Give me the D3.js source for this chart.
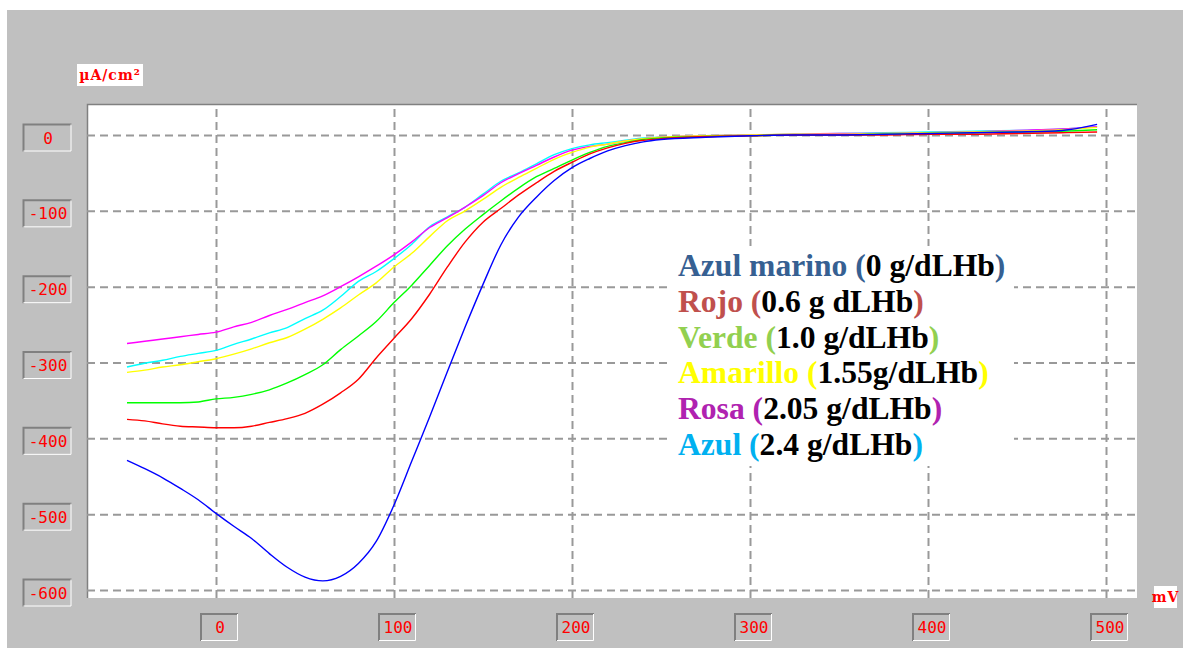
<!DOCTYPE html>
<html>
<head>
<meta charset="utf-8">
<script src="https://cdn.jsdelivr.net/npm/d3@7"></script>
<style>
  html, body { margin: 0; padding: 0; background: #ffffff; }
  svg { display: block; }
</style>
</head>
<body>
<svg id="chart" width="1183" height="648"></svg>
<script>
// Potential (mV) sampling points shared by all curves
const potentials = [-50,-40,-30,-20,-10,0,10,20,30,40,50,60,70,80,90,100,110,120,130,140,150,160,170,180,190,200,210,220,230,240,250,275,300,325,350,375,400,425,450,475,495];

// Current density (µA/cm²) per hemoglobin concentration
const navy = [-429,-440,-452,-466,-481,-499,-516,-532,-552,-570,-583,-588,-582,-565,-536,-488,-430,-372,-312,-253,-197,-145,-108,-82,-60,-43,-31,-21,-14,-9,-6,-3,-1,0,0,1,2,3,4,6,14];
const red = [-375,-377,-381,-384,-385,-386,-386,-384,-379,-374,-367,-355,-340,-322,-294,-268,-242,-210,-174,-141,-115,-97,-79,-63,-48,-36,-25,-17,-11,-7,-5,-2,-1,0,0,0,1,1,2,3,4];
const green = [-353,-353,-353,-353,-352,-348,-346,-342,-336,-327,-316,-303,-283,-265,-246,-221,-198,-172,-146,-124,-105,-87,-70,-55,-44,-33,-23,-15,-10,-6,-4,-2,-1,0,0,1,2,3,4,5,7];
const yellow = [-313,-310,-306,-303,-299,-295,-289,-282,-274,-267,-256,-243,-228,-211,-195,-174,-156,-134,-113,-100,-85,-69,-56,-44,-32,-23,-16,-12,-8,-5,-3,-1,0,1,1,2,3,4,5,7,10];
const magenta = [-275,-272,-269,-266,-263,-260,-253,-247,-238,-230,-221,-212,-200,-187,-173,-158,-141,-122,-109,-95,-80,-63,-51,-40,-29,-20,-15,-12,-8,-5,-3,-1,0,1,2,2,3,4,6,8,11];
const cyan = [-306,-301,-297,-292,-288,-284,-276,-269,-261,-254,-242,-231,-213,-193,-180,-163,-144,-121,-108,-95,-78,-61,-50,-38,-26,-18,-13,-10,-7,-4,-3,-1,0,1,2,3,4,5,6,8,11];

// Tick values
const xTicks = [0,100,200,300,400,500];
const yTicks = [0,-100,-200,-300,-400,-500,-600];

// Legend rows: name and amount text
const legendNames = ["Azul marino","Rojo","Verde","Amarillo","Rosa","Azul"];
const legendAmounts = ["0 g/dLHb","0.6 g dLHb","1.0 g/dLHb","1.55g/dLHb","2.05 g/dLHb","2.4 g/dLHb"];

const seriesData = [navy, red, green, yellow, magenta, cyan];
const lineColors = ["#0000ff","#ff0000","#00ff00","#ffff00","#ff00ff","#00ffff"];
const legendColors = ["#366092","#c0504d","#92d050","#ffff00","#b022b0","#00b0f0"];

const svg = d3.select("#chart");

// window background
svg.append("rect").attr("x", 7).attr("y", 10).attr("width", 1176).attr("height", 638).attr("fill", "#c0c0c0");

const plot = { left: 87, top: 104, right: 1137, bottom: 598 };

const x = d3.scaleLinear().domain([0, 500]).range([216, 1106]);
const y = d3.scaleLinear().domain([0, -600]).range([135, 590]);

// plot panel (sunken)
svg.append("rect")
  .attr("x", plot.left).attr("y", plot.top)
  .attr("width", plot.right - plot.left).attr("height", plot.bottom - plot.top)
  .attr("fill", "#ffffff");
svg.append("path")
  .attr("d", `M${plot.left + 0.5},${plot.bottom}V${plot.top + 0.5}H${plot.right}`)
  .attr("fill", "none").attr("stroke", "#808080").attr("stroke-width", 1.5);

svg.append("defs").append("clipPath").attr("id", "plotClip")
  .append("rect")
  .attr("x", plot.left + 1).attr("y", plot.top + 1)
  .attr("width", plot.right - plot.left - 1).attr("height", plot.bottom - plot.top - 1);

// gridlines drawn with d3 axes
const gridX = svg.append("g")
  .attr("transform", `translate(0,${plot.bottom})`)
  .call(d3.axisBottom(x).tickValues(xTicks).tickSize(-(plot.bottom - plot.top - 1)).tickFormat(""));
const gridY = svg.append("g")
  .attr("transform", `translate(${plot.left},0)`)
  .call(d3.axisLeft(y).tickValues(yTicks).tickSize(-(plot.right - plot.left)).tickFormat(""));
[gridX, gridY].forEach(g => {
  g.select(".domain").remove();
  g.selectAll(".tick line")
    .attr("stroke", "#999999")
    .attr("stroke-width", 2)
    .attr("stroke-dasharray", "8,5");
});
gridY.selectAll(".tick line").attr("x1", 0);

// curves
const line = d3.line()
  .x((d, i) => x(potentials[i]))
  .y(d => y(d))
  .curve(d3.curveMonotoneX);

const curves = svg.append("g").attr("clip-path", "url(#plotClip)");
seriesData.slice().reverse().forEach((s, k) => {
  const idx = seriesData.length - 1 - k;
  curves.append("path")
    .datum(s)
    .attr("d", line)
    .attr("fill", "none")
    .attr("stroke", lineColors[idx])
    .attr("stroke-width", 1.4)
    .attr("stroke-linejoin", "round");
});

// sunken label boxes
function labelBox(cx, cy, w, h, text) {
  const g = svg.append("g");
  const x0 = cx - w / 2, y0 = cy - h / 2;
  g.append("rect").attr("x", x0).attr("y", y0).attr("width", w).attr("height", h).attr("fill", "#c0c0c0");
  g.append("path").attr("d", `M${x0 + 1},${y0 + h}V${y0 + 1}H${x0 + w}`)
    .attr("fill", "none").attr("stroke", "#808080").attr("stroke-width", 2);
  g.append("path").attr("d", `M${x0 + 1},${y0 + h - 0.5}H${x0 + w - 0.5}V${y0 + 1}`)
    .attr("fill", "none").attr("stroke", "#ffffff").attr("stroke-width", 1);
  g.append("text")
    .attr("x", cx + 1).attr("y", cy + 6)
    .attr("text-anchor", "middle")
    .attr("font-family", "'DejaVu Sans Mono', monospace")
    .attr("font-size", 16)
    .attr("fill", "#ff0000")
    .text(text);
}

xTicks.forEach(v => labelBox(x(v) + 3, 627, 38, 28, d3.format("d")(v)));
yTicks.forEach(v => labelBox(47, y(v) + 2.5, 49, 28, d3.format("d")(v).replace("−", "-")));

// unit tags
function unitTag(x0, y0, w, h, text) {
  svg.append("rect").attr("x", x0).attr("y", y0).attr("width", w).attr("height", h).attr("fill", "#ffffff");
  svg.append("text")
    .attr("x", x0 + w / 2).attr("y", y0 + h - 6)
    .attr("text-anchor", "middle")
    .attr("font-family", "'DejaVu Serif', serif")
    .attr("font-weight", "bold")
    .attr("font-size", 14)
    .attr("letter-spacing", 1)
    .attr("fill", "#ff0000")
    .text(text);
}
unitTag(77, 64, 66, 22, "µA/cm²");
unitTag(1154, 586, 23, 22, "mV");

// legend text box
const legendBox = { x: 672, y: 246, w: 342, h: 220 };
svg.append("rect")
  .attr("x", legendBox.x).attr("y", legendBox.y)
  .attr("width", legendBox.w).attr("height", legendBox.h)
  .attr("fill", "#ffffff");

const legend = svg.append("g")
  .attr("font-family", "'Liberation Serif', 'Times New Roman', serif")
  .attr("font-weight", "bold")
  .attr("font-size", 31.6);
legendNames.forEach((name, i) => {
  const t = legend.append("text")
    .attr("x", 678)
    .attr("y", 276 + i * 35.8);
  t.append("tspan").attr("fill", legendColors[i]).text(name + " (");
  t.append("tspan").attr("fill", "#000000").text(legendAmounts[i]);
  t.append("tspan").attr("fill", legendColors[i]).text(")");
});
</script>
</body>
</html>
